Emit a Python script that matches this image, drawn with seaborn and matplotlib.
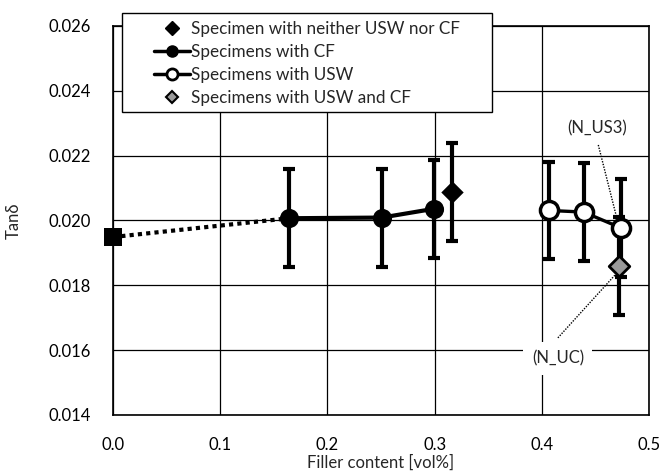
import matplotlib
matplotlib.use("Agg")
import matplotlib.pyplot as plt
import seaborn as sns
import pandas as pd
from matplotlib.lines import Line2D
from matplotlib.patches import Rectangle

# ---- data ----
neat_x = [0.0]
neat_y = [0.01949]

cf_x = [0.1643, 0.2507, 0.2993]
cf_y = [0.02007, 0.02009, 0.02036]
cf_err = [0.00151, 0.00151, 0.00151]

none_x = [0.316]
none_y = [0.02088]
none_err = [0.00150]

usw_x = [0.4067, 0.439, 0.474]
usw_y = [0.02031, 0.02026, 0.01977]
usw_err = [0.00150, 0.00150, 0.00150]

uc_x = [0.4717]
uc_y = [0.0186]
uc_err = [0.00151]

legend_labels = ["Specimen with neither USW nor CF", "Specimens with CF",
                 "Specimens with USW", "Specimens with USW and CF"]
xticks = [0.0, 0.1, 0.2, 0.3, 0.4, 0.5]
yticks = [0.014, 0.016, 0.018, 0.020, 0.022, 0.024, 0.026]

sns.set_style("white")
plt.rcParams['font.family'] = ['Lato', 'DejaVu Sans']

W, H = 660, 474
fig = plt.figure(figsize=(6.6, 4.74), dpi=100)
ax = fig.add_axes([113 / W, 1 - 415 / H, (649 - 113) / W, (415 - 26) / H])

df_cf = pd.DataFrame({"x": cf_x, "y": cf_y})
df_usw = pd.DataFrame({"x": usw_x, "y": usw_y})
df_link = pd.DataFrame({"x": [neat_x[0], cf_x[0]], "y": [neat_y[0], cf_y[0]]})

sns.lineplot(data=df_link, x="x", y="y", ax=ax, color="black", lw=3,
             linestyle=(0, (1, 1)), sort=False, zorder=3)
sns.lineplot(data=df_cf, x="x", y="y", ax=ax, color="black", lw=3, sort=False, zorder=3)
sns.lineplot(data=df_usw, x="x", y="y", ax=ax, color="black", lw=2.4, sort=False, zorder=3)

ekw = dict(fmt="none", ecolor="black", elinewidth=3, capsize=4, capthick=3, zorder=4)
ax.errorbar(cf_x, cf_y, yerr=cf_err, **ekw)
ax.errorbar(none_x, none_y, yerr=none_err, **ekw)
ax.errorbar(usw_x, usw_y, yerr=usw_err, **ekw)
ax.errorbar(uc_x, uc_y, yerr=uc_err, **ekw)

sns.scatterplot(x=neat_x, y=neat_y, ax=ax, marker="s", s=170, color="black",
                edgecolor="black", linewidth=0, zorder=6, clip_on=False)
sns.scatterplot(x=cf_x, y=cf_y, ax=ax, marker="o", s=190, color="black",
                edgecolor="black", linewidth=0, zorder=6)
sns.scatterplot(x=none_x, y=none_y, ax=ax, marker="D", s=130, color="black",
                edgecolor="black", linewidth=0, zorder=6)
sns.scatterplot(x=usw_x, y=usw_y, ax=ax, marker="o", s=170, color="white",
                edgecolor="black", linewidth=2.5, zorder=6)
sns.scatterplot(x=uc_x, y=uc_y, ax=ax, marker="D", s=110, color="#9a9a9a",
                edgecolor="black", linewidth=2, zorder=7)

ax.set_xlim(0, 0.5)
ax.set_ylim(0.014, 0.026)
ax.set_xticks(xticks)
ax.set_xticklabels([f"{v:.1f}" for v in xticks])
ax.set_yticks(yticks)
ax.set_yticklabels([f"{v:.3f}" for v in yticks])
ax.tick_params(axis="both", length=0, labelsize=12, colors="black")
ax.tick_params(axis="x", pad=16)
ax.tick_params(axis="y", pad=16)
ax.grid(True, color="black", lw=0.9)
ax.set_axisbelow(True)
for s in ax.spines.values():
    s.set_color("black")
    s.set_linewidth(1.2)

ax.set_xlabel("Filler content [vol%]", fontsize=12, labelpad=1)
ax.set_ylabel("Tanδ", fontsize=12, labelpad=19)

ax.text(0.4517, 0.02284, "(N_US3)", fontsize=12, ha="center", va="center", zorder=8)
ax.plot([0.4527, 0.4700], [0.02233, 0.02007], color="black", lw=1, ls=(0, (1, 1)), zorder=8)
ax.text(0.415, 0.01575, "(N_UC)", fontsize=12, ha="center", va="center", zorder=8,
        bbox=dict(facecolor="white", edgecolor="none", pad=6))
ax.plot([0.415, 0.4700], [0.01638, 0.01838], color="black", lw=1, ls=(0, (1, 1)), zorder=8)

# legend frame drawn separately
fig.patches.append(Rectangle((122 / W, 1 - 112 / H), (492 - 122) / W, (112 - 13) / H,
                             transform=fig.transFigure, facecolor="white",
                             edgecolor="black", lw=1.0, zorder=19))
handles = [
    Line2D([], [], ls="none", marker="D", color="black", markersize=7),
    Line2D([], [], ls="-", lw=2.5, marker="o", color="black", markersize=8),
    Line2D([], [], ls="-", lw=2.5, marker="o", color="black", markerfacecolor="white",
           markeredgewidth=2, markersize=8),
    Line2D([], [], ls="none", marker="D", color="black", markerfacecolor="#9a9a9a",
           markeredgewidth=1.5, markersize=6),
]
leg = fig.legend(handles, legend_labels, loc="upper left",
                 bbox_to_anchor=(151 / W, 1 - 18 / H), fontsize=12.3, frameon=False,
                 handlelength=2.1, handletextpad=0.05, labelspacing=0.4,
                 borderpad=0.2, borderaxespad=0)
leg.set_zorder(20)

fig.savefig("out.png", dpi=100)
